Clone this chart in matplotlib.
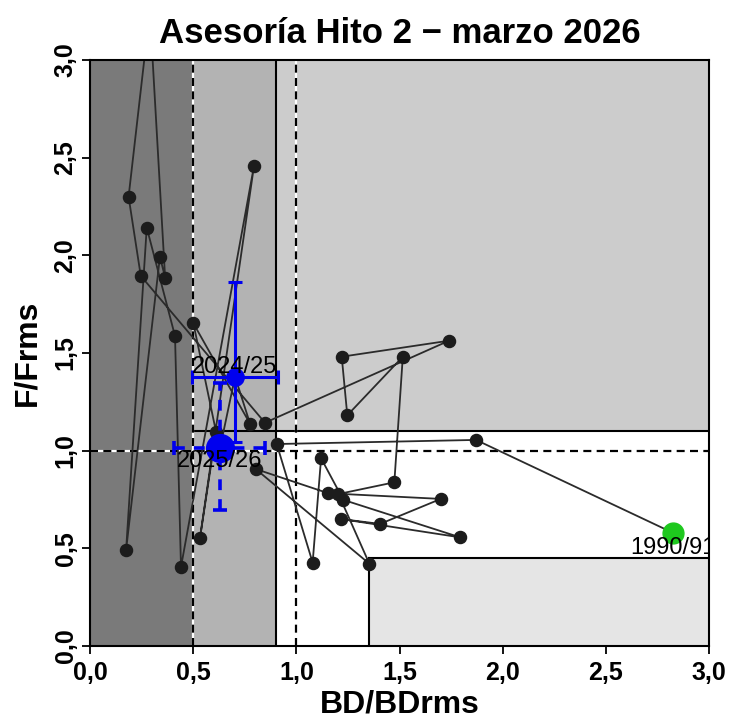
import matplotlib
matplotlib.use("Agg")
import matplotlib.pyplot as plt
import numpy as np

plt.rcParams['font.family'] = ['Liberation Sans', 'DejaVu Sans']

# ---------------- data ----------------
seasons = [f"{y}/{str(y + 1)[-2:]}" for y in range(1990, 2026)]
bd = [2.826, 1.871, 0.905, 1.079, 1.120, 1.228, 1.795, 1.217, 1.406, 1.700,
      1.155, 0.803, 1.354, 1.204, 1.475, 1.516, 1.247, 1.220, 1.740, 0.848,
      0.246, 0.187, 0.290, 0.364, 0.339, 0.175, 0.275, 0.412, 0.441, 0.795,
      0.533, 0.611, 0.501, 0.776, 0.703, 0.630]
ff = [0.579, 1.055, 1.034, 0.427, 0.961, 0.748, 0.556, 0.650, 0.625, 0.753,
      0.782, 0.906, 0.421, 0.778, 0.838, 1.481, 1.181, 1.481, 1.563, 1.143,
      1.895, 2.300, 3.250, 1.886, 1.993, 0.492, 2.142, 1.587, 0.405, 2.459,
      0.553, 1.096, 1.652, 1.137, 1.379, 1.012]

# uncertainty ranges of the last two seasons (lower, upper)
bd_ci_2425 = [0.493, 0.913]
ff_ci_2425 = [1.046, 1.862]
bd_ci_2526 = [0.407, 0.848]
ff_ci_2526 = [0.696, 1.345]

xticks = [0.0, 0.5, 1.0, 1.5, 2.0, 2.5, 3.0]
yticks = [0.0, 0.5, 1.0, 1.5, 2.0, 2.5, 3.0]
tick_labels = ["0,0", "0,5", "1,0", "1,5", "2,0", "2,5", "3,0"]

# reference points
bd_lim, bd_trp, bd_tgt, bd_hi = 0.5, 0.9, 1.0, 1.35
f_tgt, f_lim, f_low = 1.0, 1.1, 0.45

# ---------------- figure ----------------
W, H = 732, 721
fig = plt.figure(figsize=(W / 100, H / 100), dpi=100)
ax = fig.add_axes([90 / W, (H - 646) / H, 619 / W, 586 / H])
ax.set_xlim(0, 3)
ax.set_ylim(0, 3)

# zones
ax.axvspan(0, bd_lim, color='#7a7a7a', zorder=0, lw=0)
ax.axvspan(bd_lim, bd_trp, color='#b3b3b3', zorder=0, lw=0)
ax.fill_between([bd_trp, 3], f_lim, 3, color='#cccccc', zorder=0, lw=0)
ax.fill_between([bd_hi, 3], 0, f_low, color='#e5e5e5', zorder=0, lw=0)

# solid zone borders
ax.plot([bd_trp, bd_trp], [0, 3], color='black', lw=1.5, zorder=1)
ax.plot([bd_lim, 3], [f_lim, f_lim], color='black', lw=1.5, zorder=1)
ax.plot([bd_hi, 3], [f_low, f_low], color='black', lw=1.5, zorder=1)
ax.plot([bd_hi, bd_hi], [0, f_low], color='black', lw=1.5, zorder=1)

# dashed reference lines (white underlay + black dashes)
for xv in (bd_lim, bd_tgt):
    ax.plot([xv, xv], [0, 3], color='white', lw=1.6, zorder=1.5)
    ax.plot([xv, xv], [0, 3], color='black', lw=1.6, dashes=(3.6, 2.4), zorder=1.6)
ax.plot([0, 3], [f_tgt, f_tgt], color='white', lw=1.6, zorder=1.5)
ax.plot([0, 3], [f_tgt, f_tgt], color='black', lw=1.6, dashes=(3.6, 2.4), zorder=1.6)

# trajectory
ax.plot(bd, ff, '-', color='#2b2b2b', lw=1.3, zorder=3)
ax.plot(bd[1:-2], ff[1:-2], 'o', color='#1c1c1c', ms=8.7, zorder=4)

# first season
ax.plot(bd[0], ff[0], 'o', color='#1ec81e', ms=15, zorder=5)

# uncertainty of last two seasons
e1 = ax.errorbar(bd[-2], ff[-2],
                 xerr=[[bd[-2] - bd_ci_2425[0]], [bd_ci_2425[1] - bd[-2]]],
                 yerr=[[ff[-2] - ff_ci_2425[0]], [ff_ci_2425[1] - ff[-2]]],
                 fmt='none', ecolor='#0000ee', elinewidth=2.2, capsize=5,
                 capthick=2.2, zorder=6)
e2 = ax.errorbar(bd[-1], ff[-1],
                 xerr=[[bd[-1] - bd_ci_2526[0]], [bd_ci_2526[1] - bd[-1]]],
                 yerr=[[ff[-1] - ff_ci_2526[0]], [ff_ci_2526[1] - ff[-1]]],
                 fmt='none', ecolor='#0000ee', elinewidth=2.6, capsize=5,
                 capthick=2.6, zorder=6)
for lc in e2[2]:
    lc.set_linestyle((0, (3, 2.5)))

ax.plot(bd[-2], ff[-2], 'o', color='#0000ee', ms=12.5, zorder=7)
ax.plot(bd[-1], ff[-1], 'o', color='#0000ee', ms=20, zorder=7)

# labels for first and last seasons
t1 = ax.annotate(seasons[0], (bd[0], ff[0]), xytext=(0, -3), textcoords='offset points',
                 ha='center', va='top', fontsize=17, zorder=8, clip_on=True)
t2 = ax.annotate(seasons[-2], (bd[-2], ff[-2]), xytext=(0, -1), textcoords='offset points',
                 ha='center', va='bottom', fontsize=17, zorder=8, clip_on=True)
t3 = ax.annotate(seasons[-1], (bd[-1], ff[-1]), xytext=(0, -1), textcoords='offset points',
                 ha='center', va='top', fontsize=17, zorder=8, clip_on=True)
for t in (t1, t2, t3):
    t.set_clip_path(ax.patch)

# axes styling
for s in ax.spines.values():
    s.set_linewidth(1.5)
    s.set_zorder(10)
ax.set_xticks(xticks)
ax.set_yticks(yticks)
ax.set_xticklabels(tick_labels, fontsize=18, fontweight='bold')
ax.set_yticklabels(tick_labels, fontsize=18, fontweight='bold', rotation=90, va='center')
ax.tick_params(direction='out', length=6, width=1.3)
ax.tick_params(axis='x', pad=5)
ax.tick_params(axis='y', pad=3)

ax.set_xlabel("BD/BDrms", fontsize=23, fontweight='bold', labelpad=3)
ax.set_ylabel("F/Frms", fontsize=23, fontweight='bold', labelpad=8)
ax.set_title("Asesoría Hito 2 − marzo 2026", fontsize=25, fontweight='bold', pad=12)

fig.savefig("out.png", dpi=100)
